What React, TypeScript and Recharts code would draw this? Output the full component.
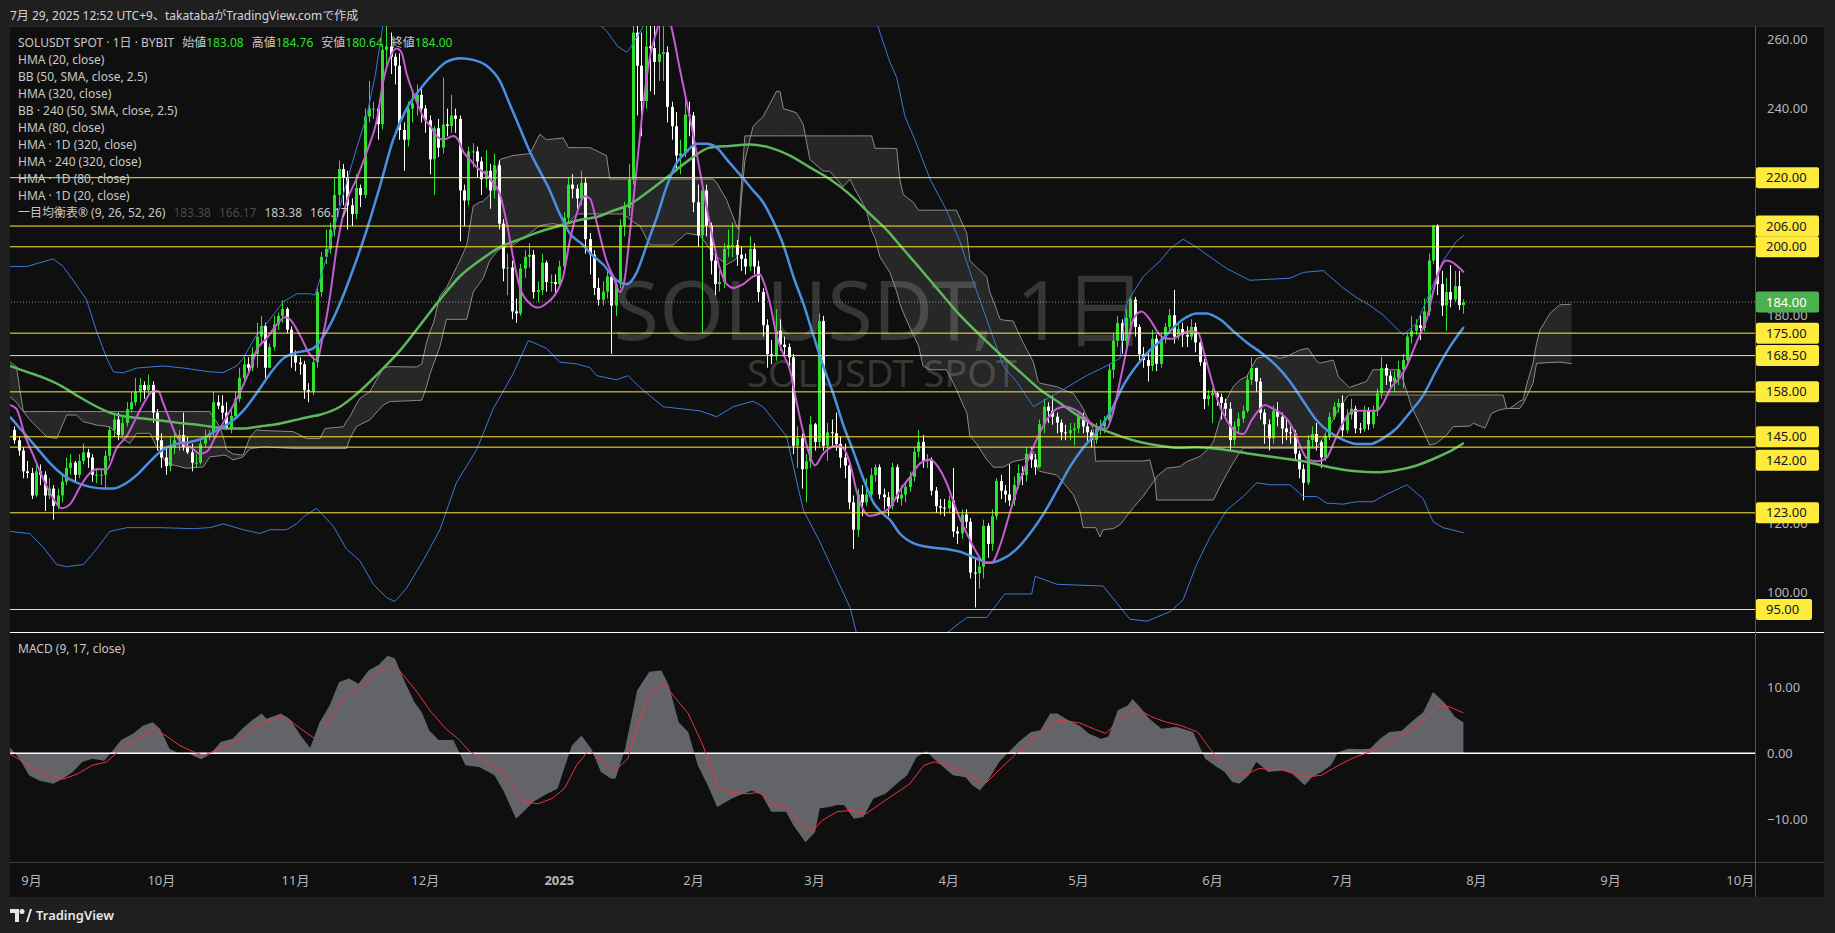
import React from "react";
import {
  ComposedChart,
  Bar,
  Line,
  Area,
  XAxis,
  YAxis,
  ReferenceLine,
} from "recharts";

const FONT = "'Noto Sans', 'Noto Sans CJK JP', sans-serif";
const UP = "#2fe02f";
const DOWN = "#ffffff";
const YELLOW = "#ffeb3b";
const BB_BLUE = "#3b78d8";
const HMA80_BLUE = "#4a90e2";
const HMA20_PINK = "#c65bd3";
const HMA320_GREEN = "#5cb85c";
const AXIS_TEXT = "#b2b5be";

// x values are days counted from 2024-09-01 (day 0)
const X_MIN = -4.99;
const X_MAX = 398.41;
const P_MIN = 88.49;
const P_MAX = 263.91;
const M_MIN = -16.39;
const M_MAX = 18.3;

const FIRST_DAY = -4;
const FIRST_OPEN = 147;

// daily closes, 2024-08-28 .. 2025-07-29
const closes = [
  144, 141, 135, 134.5, 128, 135, 134, 128, 130, 125,
  128, 132, 136, 137.5, 134, 138, 140.5, 139, 134, 134,
  134, 139.5, 147, 150, 145.5, 149, 153, 155, 158, 160,
  158.5, 160, 152, 144, 139, 136.5, 142, 144, 145.5, 142,
  140.5, 137.5, 137.5, 143, 145, 146, 155, 154, 152, 147.5,
  151, 156, 162, 166, 165, 169, 174, 177, 165, 171,
  177.5, 180, 182, 176, 168.5, 166.5, 166, 158.5, 158, 166.6,
  186.9, 197.1, 199.4, 205, 215, 222.5, 220, 212, 209.5, 217,
  215, 237.7, 240, 240, 235.5, 257, 258, 255, 252.4, 233.8,
  231, 240, 241.5, 244, 240, 236.6, 225.3, 234.3, 228.7, 235.4,
  235, 238, 237, 216.3, 213.4, 227.6, 227.6, 224.7, 219.6, 222,
  216.3, 223.6, 206.7, 193.7, 194, 181.3, 180.7, 193.7, 197.1, 197.7,
  186.9, 187.5, 195.4, 189.8, 189.8, 189.2, 194.3, 208.4, 218, 216.8,
  214, 218.5, 202.2, 197.7, 188.1, 184.7, 187, 191.4, 183, 189.2,
  206.1, 211.2, 219.6, 262, 252.4, 242.2, 258, 257.5, 253.5, 255.8,
  256.3, 240.5, 234.9, 226.4, 227, 238.3, 238, 212.9, 203.3, 216.3,
  206.1, 196, 189.2, 189.8, 199.4, 200.5, 200.5, 197.7, 196.5, 194.3,
  199.4, 194.3, 186.9, 177.3, 168.9, 168.3, 175.7, 171.7, 171, 168,
  142.4, 144.6, 135.6, 137.9, 148.6, 143.5, 178.5, 142.4, 146.3, 146,
  142.9, 139, 136.7, 126, 118.1, 128.3, 126, 128.3, 133.9, 136.2,
  128.3, 127.5, 124.9, 136.2, 127.1, 128.3, 130.5, 133.4, 140.7, 143.5,
  137.9, 138.4, 129.4, 124.9, 124.5, 124.3, 126.6, 117.6, 117, 122.5,
  120.4, 105.7, 105.5, 107.4, 119.2, 114, 122, 132.2, 129.4, 128.3,
  126.6, 131.1, 134.5, 133.9, 140.1, 138.4, 136.2, 148.6, 153.7, 152.5,
  150.8, 149.1, 146.3, 146, 146.9, 147.4, 150.8, 148, 146.3, 144.1,
  147.4, 148, 149.7, 164.4, 172.8, 177.9, 172.8, 179.5, 184.7, 176.8,
  168.9, 167.2, 165.5, 173.4, 166.1, 173.4, 176.8, 180.2, 174, 176.2,
  174.5, 174, 176.8, 172.3, 166.6, 155.9, 157, 157.6, 156.5, 154.8,
  153.1, 144.1, 148, 150.3, 152.5, 161.5, 164.9, 161, 152, 148.6,
  144.6, 152.5, 150.8, 147.4, 146.3, 146, 140.1, 135.6, 131.7, 144.1,
  145.8, 143.5, 139, 145.2, 150.8, 153.7, 154.8, 146.9, 151.4, 153.1,
  147.4, 147.2, 152.5, 148.6, 152.5, 157.6, 164.9, 162.7, 161, 162.1,
  164.4, 167.2, 174, 175.7, 177.3, 176.5, 181.3, 196, 206.1, 189.2,
  183, 186.9, 184.7, 188.6, 183.08, 184,
];

const highs = [
  148, 145, 142, 138, 136, 137, 137, 135, 133, 131,
  130, 134, 139, 140, 138, 140, 143, 141.5, 140, 136,
  135.5, 141, 148, 152, 152, 151, 155, 158, 162, 162,
  161, 163, 161, 153, 146, 142, 145, 146, 147, 152,
  145, 143, 140, 144, 147, 147, 158, 157, 157, 155,
  153, 158, 165, 168, 168, 171, 178, 180, 178, 172,
  180, 181, 184.5, 182.5, 177, 170, 168, 167, 160.5, 168,
  188, 198.5, 205, 207, 220, 225, 224, 222, 214, 221,
  218, 240, 248, 242, 241, 258.5, 264, 262, 256, 256,
  236, 242, 245, 247, 246, 241, 238, 235, 237, 249,
  240, 244, 240, 238, 218, 229, 230, 229, 226, 228,
  224, 227, 225, 208, 198, 196, 185, 195, 199, 201,
  199, 190, 198, 196, 192, 192, 196, 210, 220, 221,
  218, 222, 220, 204, 199, 191, 190, 193, 192, 190,
  208, 213, 224, 280, 275, 262, 272, 268, 264, 266,
  266, 258, 242, 239, 231, 243, 242, 239, 218, 219,
  218, 207, 198, 193, 201, 205, 207, 202, 200, 198,
  203, 201, 196, 188, 179, 173, 182, 179, 174, 172,
  169, 148, 146, 140, 151, 149, 180.7, 180, 149, 150,
  152, 145, 143, 138, 128, 130, 131, 133, 136, 137,
  137, 130, 129, 137.5, 137, 131, 132, 135, 142, 147,
  145.5, 140, 139, 130.5, 127, 127, 128, 136, 119, 124,
  124, 121.5, 110, 110, 121, 120, 124, 133, 134, 131,
  137, 133.5, 137, 136.5, 142, 142, 140, 150, 156, 155,
  157, 152, 150, 148.5, 149, 149, 152, 152, 149, 147,
  149, 150, 151, 166, 175, 180, 179, 182, 185.5, 185.5,
  177.5, 171, 170, 176, 174.5, 175, 178, 182, 187.5, 178,
  178, 177, 179, 178, 173, 167.5, 158.5, 159, 158, 157.5,
  156, 155, 149.5, 152, 154, 163, 168, 165, 162, 153,
  150, 154, 155, 152, 150, 148, 147, 141, 137, 145.5,
  148, 149, 144, 146, 152, 155, 156, 157, 153, 156,
  154, 149, 154, 153.5, 154, 159, 168.2, 166, 164, 164,
  167, 169, 175, 180, 179, 180, 185, 198, 206.3, 206.5,
  193, 191, 194.7, 193, 193, 184.76,
];

const lows = [
  143, 139.5, 133, 133, 127, 127.5, 131, 123.5, 127, 121,
  124, 126, 131, 134, 132, 133, 137, 136, 132, 131.5,
  131, 130, 138, 145, 144, 145, 148, 152, 154, 155,
  156, 157, 149, 141, 136, 134, 135, 140, 141, 141,
  140, 135, 136, 137, 142, 144, 145, 153, 150, 147,
  146, 150, 155, 160, 163.5, 164, 165, 172, 162, 165,
  170, 176, 178, 175, 165, 164, 163, 156, 155, 157,
  165, 185.5, 195, 198, 203, 212, 212, 205, 206, 208,
  211.5, 214, 236, 237, 231, 234, 252, 250, 247, 231,
  222, 229, 236, 238, 236, 233, 221, 215, 226, 227,
  232, 233, 233, 201.6, 206, 212, 223, 220, 215, 217,
  211, 214, 205, 190, 186, 179, 178, 180, 191, 194,
  185, 184, 186, 187, 187, 186, 188, 193, 207, 214,
  210, 212, 198, 192, 186, 183, 183, 185, 169, 180,
  188, 203, 209, 218, 238, 232, 240, 245, 244, 248,
  248, 236, 231, 222, 221, 226, 232, 210, 200, 175,
  203, 192, 186, 187, 188, 197, 197, 194.5, 193, 192,
  193, 192, 184, 174, 165, 166, 167, 170, 168, 165.5,
  140, 136, 130, 126, 136, 141, 142, 141, 138, 142,
  141, 136, 133, 124, 112.5, 116, 122, 125, 127, 132,
  127, 124, 122, 124, 126, 125, 126, 129, 132, 139,
  136, 136, 128, 123, 122.5, 122, 123, 116, 114, 115.5,
  118.5, 104, 95.6, 101, 104, 110, 112, 121, 127, 126,
  125, 125, 130, 131, 132, 136, 134, 136, 146, 149,
  148.5, 146, 144, 144, 144, 142.5, 146, 146, 143.5, 142,
  143, 145.5, 146, 149, 162, 171, 169, 171, 176.5, 174,
  167, 165, 161, 164, 164, 165, 172, 175, 172, 173,
  171, 171, 173, 169.5, 165.5, 153, 154, 149, 154, 150,
  151, 141, 142.5, 146, 149, 152, 160, 158, 150, 143,
  141, 143, 148, 143, 144, 143, 138, 133, 126.6, 131,
  142, 141, 136, 138, 144, 150, 152, 145, 146, 150,
  146, 146, 146.5, 147, 147.5, 151, 156, 160, 159, 158,
  160, 159, 166, 172, 174.5, 173, 175.5, 180, 195, 186,
  180, 175.7, 182.5, 184, 181.7, 180.64,
];

// [day, value]
const hma20 = [
  [-5, 154.2], [-3.5, 153.1], [-1.5, 145.2], [0.4, 139.6], [2.7, 132.8], [5, 127.1], [6.9, 124.3],
  [8.9, 125.5], [11.2, 130.5], [13.5, 134.5], [15, 135.6], [17.4, 135.6], [19.7, 141.8], [22, 145.2],
  [24.3, 150.8], [26.2, 155.3], [28.1, 158.2], [29.3, 158.2], [30.4, 154.8], [32, 149.7], [33.5, 145.2],
  [35.1, 142.9], [37, 141.8], [38.9, 140.1], [40.5, 140.7], [42.8, 145.8], [45.1, 150.8], [47.4, 155.9],
  [48.9, 159.9], [50.5, 164.5], [52, 170], [54.3, 173.4], [56.6, 177.3], [58.6, 179.6], [59.7, 179],
  [62, 174.5], [64.3, 168.9], [65.9, 167.2], [67.4, 174.5], [69, 185.8], [70.5, 199.4], [72.8, 212.9],
  [75.1, 219.6], [77.5, 227.5], [79.8, 236.6], [81.3, 247.9], [82.8, 254.6], [84.4, 257.4], [85.5, 256.3],
  [86.7, 250.1], [88.6, 243.3], [90.5, 237.7], [92.5, 234.3], [93.6, 232.1], [95.2, 231], [97.5, 232.1],
  [98.6, 231], [99.8, 227.5], [101.3, 225.3], [102.9, 223], [104.8, 221.3], [106.7, 218.5], [108.3, 215.1],
  [109.8, 207.2], [111.3, 197.1], [112.9, 188.1], [115.2, 183.6], [117.1, 182.4], [119, 183.6],
  [121.4, 186.9], [122.9, 191.4], [124.4, 201.6], [126, 209.5], [127.9, 214.6], [129.1, 214],
  [130.6, 207.2], [132.9, 196], [134.5, 191.4], [136, 186.9], [137.2, 191.4], [138.3, 203.9],
  [139.9, 223], [141.4, 241.1], [142.9, 254.6], [144.5, 262.5], [145.5, 266.5], [146.4, 268],
  [147.4, 266], [148.3, 261.4], [149.9, 251.2], [151.4, 242.2], [153, 232.1], [154.5, 221.9], [156, 211.8],
  [157.6, 201.6], [159.1, 193.7], [160.7, 189.2], [162.2, 188.1], [164.5, 189.2], [166.8, 191.4],
  [168.4, 192], [169.1, 190.3], [170.7, 183.6], [172.2, 174.5], [173.8, 168.9], [175.3, 164.4],
  [176.8, 155.3], [178.4, 146.3], [179.9, 139.6], [181.1, 136.7], [183, 140.1], [186.1, 142.4],
  [187.6, 141.8], [189.2, 137.3], [190.7, 129.4], [192.3, 123.8], [193.8, 122.1], [196.1, 122.8],
  [198.4, 124.5], [200.7, 129.4], [203.1, 133.4], [205.4, 137.3], [207.7, 138.4], [209.6, 136.2],
  [211.5, 131.7], [213.8, 123.8], [216.2, 117], [218.5, 111.4], [220.4, 108.5], [221.9, 108.5],
  [223.9, 113.6], [225.8, 121.5], [227.7, 129.4], [230, 137.3], [232.3, 144.1], [234.6, 149.7],
  [237, 153.1], [238.9, 153.7], [240.8, 153.1], [242.3, 152], [244.7, 149.1], [247, 147.4], [248.5, 147.4],
  [250, 152], [251.6, 161], [253.1, 170], [254.7, 179], [256.6, 181.3], [258.5, 179], [260.8, 174.5],
  [262.4, 173.4], [263.9, 173.4], [265.5, 174.5], [267.8, 175.6], [269.7, 175.1], [270.9, 170],
  [272.4, 163.2], [273.9, 156.5], [276.3, 149.7], [278.6, 146.3], [280.1, 145.8], [282, 149.7],
  [284, 153.1], [285.1, 154.2], [287, 153.1], [288.6, 152], [290.5, 149.7], [292, 146.3], [293.6, 141.3],
  [295.1, 138.4], [297.4, 137.9], [299.4, 139], [300.9, 142.9], [302.5, 147.4], [304, 150.8],
  [305.9, 152.5], [308.6, 152.5], [310.9, 152.5], [312.5, 154.8], [314, 158.7], [316.3, 162.1],
  [317.9, 165.5], [319.4, 170], [320.9, 174.5], [322.5, 179], [324, 186.9], [325.6, 193.7], [327.1, 196],
  [328.6, 195.4], [330.2, 193.7], [331.1, 192.6],
];

const hma80 = [
  [-5, 150.8], [-1.9, 146.3], [1.2, 141.8], [4.3, 137.3], [7.3, 133.9], [10.4, 131.7], [13.5, 130.5],
  [16.6, 130], [18.9, 130], [21.2, 131.1], [24.3, 133.9], [27.4, 137.9], [30.4, 141.3], [33.5, 142.9],
  [36.6, 143.5], [39.7, 144.6], [42.8, 146.9], [45.9, 149.1], [48.9, 152.5], [52, 157.6], [55.1, 163.2],
  [58.2, 167.7], [61.3, 169.4], [64.3, 170.2], [65.1, 170.6], [68.2, 175.6], [71.3, 183.6], [74.4, 193.7],
  [77.5, 205], [80.5, 217.4], [83.6, 231], [86.7, 240], [89.8, 245.6], [92.9, 250.1], [95.9, 253.5],
  [99, 254.6], [102.1, 254.1], [105.2, 252.4], [108.3, 247.9], [110.6, 241.1], [112.9, 234.3],
  [115.2, 227.5], [117.5, 221.9], [119.8, 216.3], [122.1, 209.5], [124.4, 203.9], [127.5, 200.5],
  [129.1, 198.2], [132.2, 194.8], [135.2, 190.3], [137.6, 189.2], [139.9, 192.6], [142.2, 200.5],
  [144.5, 208.4], [146.8, 217.4], [149.1, 224.2], [151.4, 227.5], [153.7, 229.8], [156, 229.8],
  [158.4, 228.7], [160.7, 225.3], [163.8, 220.8], [166.8, 216.3], [169.1, 212.9], [171.5, 207.2],
  [173.8, 200.5], [176.1, 191.4], [178.4, 183.6], [180.7, 174.5], [183, 165.5], [185.3, 157.6],
  [187.6, 148.6], [190, 140.7], [192.3, 132.8], [194.6, 126], [196.9, 122.6], [198.4, 121], [200.7, 117],
  [203.8, 114.2], [207.7, 113], [211.5, 112.5], [215.4, 111.4], [218.5, 109.7], [221.5, 108.5],
  [224.6, 109.7], [227.7, 112.5], [230.8, 117], [233.9, 122.6], [237, 129.4], [240, 136.2], [243.1, 141.8],
  [246.2, 146.3], [249.3, 152], [252.4, 159.9], [255.4, 165.5], [258.5, 170], [261.6, 173.4],
  [263.2, 175.6], [266.2, 179], [269.3, 180.7], [271.6, 180.7], [274.7, 179], [277.8, 175.6],
  [280.9, 172.3], [284.7, 168.9], [287.8, 165.5], [290.9, 161], [294, 155.3], [297.1, 149.7],
  [300.1, 146.3], [303.2, 144.1], [306.3, 142.9], [309.4, 142.9], [312.5, 144.6], [315.5, 147.4],
  [318.6, 152], [321.7, 157], [324.8, 164.4], [327.9, 171.1], [331.1, 176.8],
];

const hma320 = [
  [-5, 165.5], [-1.1, 163.8], [2.7, 162.1], [6.6, 159.9], [10.4, 157], [14.3, 154.2], [18.1, 152],
  [22, 150.8], [25.8, 150.3], [29.7, 149.7], [33.5, 149.1], [37.4, 148.6], [41.2, 148], [45.1, 147.4],
  [48.9, 147.4], [52.8, 148], [56.6, 148.6], [60.5, 149.7], [64.3, 150.8], [66.7, 151.4], [71.3, 153.7],
  [75.9, 158.2], [80.5, 163.8], [85.2, 170], [89.8, 177.3], [94.4, 184.7], [99, 191.4], [103.6, 196],
  [108.3, 199.9], [112.9, 202.2], [117.5, 204.4], [122.1, 206.1], [126.8, 207.8], [131.4, 208.9],
  [133.7, 210.1], [138.3, 212.3], [142.9, 216.3], [147.6, 220.8], [152.2, 225.3], [156.8, 228.7],
  [161.4, 229.2], [166.1, 229.6], [170.7, 228.7], [175.3, 226.4], [179.9, 223], [184.5, 219.6],
  [189.2, 215.1], [193.8, 209.5], [198.4, 203.9], [200.7, 200.5], [205.4, 193.7], [210, 186.9],
  [214.6, 180.2], [219.2, 174.5], [223.9, 168.9], [228.5, 163.8], [233.1, 158.7], [237.7, 154.8],
  [242.3, 150.8], [247, 147.4], [251.6, 145.2], [256.2, 143.5], [260.8, 142.4], [265.5, 141.8],
  [269.3, 142], [275.5, 141.3], [281.6, 140.1], [287.8, 139], [294, 137.9], [300.1, 136.2], [306.3, 135],
  [310.9, 134.7], [315.5, 135.3], [320.2, 136.7], [324.8, 139], [328.6, 141.3], [331.1, 143.2],
];

const bbUpper = [
  [-5, 194.3], [-1.1, 194.3], [5, 196.5], [7.3, 194.3], [9.6, 190.3], [12.7, 184.7], [15, 175.6],
  [17.4, 167.7], [18.9, 163.8], [21.2, 163.5], [24.3, 164.9], [30.4, 165.5], [35.1, 164.9], [41.2, 163.8],
  [44.3, 163.6], [47.4, 165.5], [48.9, 167.7], [52, 174.5], [55.1, 179], [58.2, 184.1], [61.3, 186.4],
  [64.3, 186.4], [65.5, 186], [68, 196], [72, 215], [75, 228], [77.5, 238], [79.5, 250], [81.3, 264.8],
  [85, 272], [90, 278], [100, 282], [110, 280], [120, 274], [128, 268], [132.9, 262.5], [135.5, 258],
  [137.6, 256.3], [138.3, 257.4], [140.6, 262], [141.8, 264.8], [146, 275], [155, 288], [170, 290],
  [185, 282], [193, 270], [195.7, 263.6], [198.4, 253.5], [200, 249], [201.9, 237.7], [204.2, 231],
  [207.7, 219.6], [211.5, 210.6], [214.6, 201.6], [217.3, 191.4], [220.8, 179], [224.6, 165.5],
  [227.7, 161], [231.6, 153.7], [234.6, 155.9], [239.3, 159.3], [243.9, 162.7], [248.5, 165.5],
  [251.6, 167.7], [253.1, 183.6], [257, 191.4], [260.8, 195.8], [263.2, 199.4], [266.2, 202.2],
  [269.3, 199.9], [272.4, 197.1], [276.3, 193.7], [281.6, 190.3], [286.3, 190.6], [290.9, 190.9],
  [294, 192.6], [298.6, 193.1], [303.2, 188.1], [306.3, 185.3], [309.4, 183], [312.5, 180.2],
  [317.1, 174.5], [320.2, 177.9], [323.3, 186.9], [326.3, 196], [329.4, 201.6], [331.1, 203.3],
];

const bbLower = [
  [-5, 117.6], [-0.4, 117], [2.7, 113], [5.8, 108], [8.1, 107.4], [12, 108], [15, 112.5], [18.1, 117.6],
  [22, 118.7], [29.7, 118.7], [37.4, 118.4], [41.2, 118.7], [44.3, 119.8], [48.9, 118.1], [52.8, 117],
  [55.1, 118.1], [58.9, 118.1], [61.3, 119.8], [63, 122], [65.9, 124.3], [69.7, 119.2], [72.8, 112.5],
  [75.9, 109.1], [79, 102.3], [82.1, 98.4], [84, 97.3], [86.7, 101.2], [90.5, 109.1], [94.4, 118.1],
  [98.2, 131.7], [102.9, 141.3], [106.7, 153.1], [111.3, 163.2], [114.8, 172.8], [116, 172.3],
  [119, 170.6], [122.1, 166.6], [126, 166.1], [129.1, 165], [130.6, 162.7], [135.2, 161.5],
  [137.9, 162.7], [140.6, 159.3], [146, 153.7], [154.5, 152.5], [158.4, 150.8], [162.2, 153.7],
  [166.8, 155.3], [169.1, 153.7], [174.5, 145.2], [178.4, 123.8], [182.2, 114.7], [189.2, 95.6],
  [190.7, 88.2], [195, 80], [200, 76], [205, 78], [211.5, 88.2], [216.2, 92.7], [220.8, 92.7], [225, 99.5],
  [231.2, 99.5], [232, 104.6], [237, 102.3], [247.7, 101.8], [253.9, 92.2], [257.8, 91.6], [263.2, 94.4],
  [266.2, 97.8], [269.3, 108], [272.4, 115.9], [276.3, 123.8], [280.1, 127.7], [283.2, 131.7],
  [286.3, 131.1], [290.9, 131.1], [294, 127.7], [297.1, 127.7], [299.4, 125.8], [303.2, 125.5],
  [306.3, 126.2], [310.1, 126.2], [313.2, 128.3], [317.9, 131.1], [321.7, 127.1], [324, 120.4],
  [326.3, 118.7], [331.1, 117.2],
];

// ichimoku cloud: [day, span 1, span 2]
const cloud = [
  [-5, 166.7, 156.6], [-3.5, 165.3, 155], [-2.7, 158.5, 153.5], [-1.9, 152.3, 152.3], [-0.4, 152.3, 149.9],
  [1.2, 152.3, 147.9], [3.5, 152.3, 145], [5.8, 152.3, 144.5], [7.3, 152.3, 148.9], [8.1, 152.3, 151.3],
  [10.4, 152.3, 151.3], [11.9, 152.3, 149.4], [15, 152.3, 148.4], [18.1, 152.3, 147.9], [20.4, 152.3, 145],
  [22.7, 152.3, 143.1], [24.3, 152.3, 146], [27.4, 152.3, 146], [28.9, 152.3, 142.1], [31.2, 152.3, 137.3],
  [35.8, 152.3, 135.9], [39.7, 152.3, 136.3], [41.2, 152.3, 139.2], [43.5, 147.9, 139.5], [44.3, 145, 139.7],
  [45.1, 141.2, 139.5], [46.6, 140, 138.3], [48.9, 139.7, 139.2], [50.5, 145, 141.6], [52, 147, 141.8],
  [53.6, 146.8, 142.1], [60.5, 146.5, 141.6], [63.6, 144.5, 141.6], [66.7, 144.5, 141.6], [67.8, 147.4, 141.6],
  [72.1, 147.9, 141.6], [72.8, 149.5, 141.6], [73.6, 150.8, 144.5], [75.1, 154.5, 147.9], [75.9, 156.1, 148.5],
  [78.2, 158.1, 149.9], [81.3, 164.9, 154.2], [82.8, 165.3, 155.2], [89, 165.2, 155.5], [90.2, 166.1, 155.6],
  [91.3, 172.3, 159.5], [92.1, 175.5, 163.2], [92.9, 177.9, 166], [94.4, 185.8, 171.1], [95.9, 188.1, 179],
  [99, 196, 179], [100.6, 200.5, 179], [102.1, 211.8, 186.9], [103.6, 212.9, 189.5], [104.4, 213.2, 190.9],
  [105.9, 215, 196], [107.5, 221.9, 198.5], [108.3, 225.3, 199.4], [111.3, 226.4, 200.5], [115.2, 227, 203.9],
  [117.5, 232.6, 206.1], [119, 231, 206.5], [120.6, 231.2, 206.7], [122.9, 231.5, 206.1], [124.1, 228.7, 207],
  [126, 228.7, 209.5], [129.1, 228.7, 209.5], [132.9, 226.4, 209.5], [133.7, 219.6, 209.5],
  [136.8, 219.6, 209.5], [139.1, 219.6, 207.2], [140.6, 219.6, 206.1], [142.9, 219.6, 200.5],
  [148.3, 219.6, 200.5], [151.4, 219.6, 203.9], [154.5, 219.6, 203.3], [157.6, 219.6, 198],
  [158.4, 218.5, 197.1], [160.7, 213.5, 194.8], [163, 206, 196.5], [163.4, 205, 202], [164.1, 218, 214],
  [164.9, 232.1, 225], [166.8, 232.1, 234.9], [169.1, 232.1, 237.7], [172.2, 232.1, 245], [173, 232.1, 245],
  [173.8, 232.1, 240], [176.8, 232.1, 238.8], [178.4, 232.1, 235.4], [179.9, 232.1, 225.3],
  [183, 232.1, 221.9], [184.5, 232.1, 221.9], [186.1, 232.1, 219.6], [187.6, 232.1, 217.4],
  [189.2, 232.1, 219.6], [190, 232.1, 217.4], [193, 232.1, 210.6], [194.2, 232.1, 204.5],
  [195, 228.5, 202.5], [196.1, 228.5, 197.1], [198.4, 228.5, 192.6], [200, 228.4, 187], [200.7, 219.6, 183.6],
  [201.5, 215.1, 181], [203.8, 212.9, 174.5], [205, 210.6, 171.5], [206.1, 210.6, 165.5], [207.7, 210.6, 164.4],
  [211.5, 210.6, 164.4], [213.8, 210.6, 158.7], [215.4, 206.1, 154], [216.2, 203.9, 152], [216.9, 196, 145.2],
  [218.5, 194, 142.9], [220.8, 191.4, 138.4], [221.5, 186.9, 137.5], [222.3, 184.5, 136.2],
  [223.9, 179, 136.2], [224.6, 178.8, 136.2], [226.9, 178.5, 137.8], [229.2, 172.3, 138.4],
  [231.6, 166.6, 140.7], [232.7, 161, 135.5], [233.1, 160.5, 135], [237, 159.5, 133.9], [239.3, 158.2, 130.5],
  [240.8, 157.6, 128.3], [242.3, 154.8, 123.8], [243.1, 153.2, 118.7], [243.5, 152, 118.7],
  [245.4, 147.4, 118.7], [246, 137.9, 118.7], [247, 138, 116], [247.7, 138, 118.1], [250, 138, 118.4],
  [251.6, 138, 119.5], [254.7, 138, 124.5], [257, 138, 127.8], [258.5, 138.3, 130.5], [259.7, 132.5, 132.5],
  [260.1, 126.7, 133.5], [262.4, 126.7, 135.9], [265.5, 126.7, 136.4], [267, 126.7, 137.8],
  [270.1, 126.7, 139.3], [272.4, 126.7, 142.1], [273.2, 126.7, 143.5], [274.7, 130.5, 149.9],
  [276.2, 134, 155.7], [277.8, 137.5, 159.5], [279.3, 140.5, 161.4], [280.1, 141.7, 162], [280.9, 141.7, 162.4],
  [283.2, 141.7, 167.7], [286.3, 141.7, 168.7], [288.6, 141.7, 167.7], [290.1, 141.7, 168.2],
  [293.2, 141.7, 170.1], [295.1, 141.7, 170.6], [297, 141.7, 167], [297.8, 143, 166.3], [300.9, 150, 167.2],
  [302.1, 153, 162.4], [304.4, 157, 159.5], [304.7, 157.1, 159.3], [308.6, 157.1, 161], [310.1, 157.1, 164.4],
  [316.3, 157.1, 164.4], [317.8, 157.1, 158.6], [319, 157.1, 153.7], [320.9, 157.1, 148.9],
  [323.2, 157.1, 142.6], [324.8, 157.1, 143.1], [327.1, 157.1, 145.5], [328.6, 157.1, 147.9],
  [332.5, 157.1, 148.1], [333.3, 157.1, 148.9], [336, 157.1, 147.5], [337.5, 157.1, 151.8],
  [339.4, 157.1, 152.8], [340.2, 157.1, 153], [341, 153.2, 153.2], [341.7, 153.2, 153.2], [344, 153.2, 155.3],
  [344.8, 154.5, 155.7], [345.6, 156.6, 160], [347.1, 160.5, 166.3], [347.9, 166.3, 172], [348.7, 166.3, 175.9],
  [351, 166.5, 180.7], [353.3, 166.6, 183.2], [356, 166.17, 183.38],
];

const macd = [
  [-5.1, 0.95], [-2.8, -0.8], [-0.6, -3.3], [1.7, -4.1], [5, -4.6], [7.3, -3.8], [9.5, -2.8], [11.7, -1.3],
  [14, -0.8], [16.8, -1.1], [18.5, 0.2], [20.7, 2], [23.5, 3], [25.8, 4.2], [28, 4.7], [29.7, 3.7], [31.9, 0.7],
  [34.2, -0.05], [36.4, -0.05], [39.2, -0.9], [41.4, -0.05], [43.7, 1.7], [46.5, 2.2], [48.7, 3.7], [51, 5],
  [53.2, 6], [54.3, 5.2], [57.7, 6], [59.9, 5], [62.2, 2.7], [64.4, 0.8], [66.6, 4.7], [68.9, 7.2],
  [71.1, 10.75], [73.4, 11.3], [75.6, 10.5], [77.9, 12.5], [80.1, 13.3], [82.3, 14.7], [84, 14.3],
  [86.3, 10.75], [88.5, 7.7], [90.2, 6.2], [91.9, 3.5], [94.1, 2], [97.5, 2], [100.3, -1.8], [103.6, -2.1],
  [107, -3.3], [109.2, -5.8], [112, -9.85], [113.7, -8.8], [116, -7.3], [118.7, -6.3], [121.6, -5.3],
  [124.9, 1.2], [127.1, 2.7], [129.4, 0.7], [131.6, -2.8], [133.9, -3.8], [135, -3.8], [137.2, 0.7],
  [140, 9.5], [142.8, 12.3], [145.6, 12.5], [147.3, 10.25], [149.6, 4.7], [151.8, 3.2], [154, -1.8],
  [156.3, -4.8], [158.5, -8.1], [161.9, -6.8], [163.8, -6.3], [166.5, -5.6], [168.8, -6.3], [171, -8.8],
  [174.4, -8.8], [176.1, -10.85], [178.9, -13.4], [181.1, -11.9], [182.2, -8.3], [184.5, -8.1], [186.2, -7.8],
  [187.8, -7.8], [190.1, -9.85], [192.3, -9.6], [194.6, -6.8], [197.4, -6.1], [199.6, -4.8], [202.4, -3.3],
  [204.6, -0.55], [206.9, 0.3], [208.6, -0.8], [210.8, -2.1], [213, -3.3], [215.9, -3.6], [217.5, -4.8],
  [219.2, -5.6], [220.9, -4.3], [223.7, -1.3], [225.9, 0.2], [228.2, 1.7], [231, 3.2], [233.2, 3.5],
  [235.5, 6], [237.1, 6], [239.4, 5.1], [242.2, 4.2], [244.4, 3], [247.2, 2.2], [248.9, 2.5], [251.1, 6.5],
  [253.4, 7.2], [254.5, 8.2], [256.2, 7], [258.4, 5.2], [261.2, 3.7], [264.6, 4], [268.5, 3.2], [271.3, -0.8],
  [274.1, -2.1], [275.8, -2.8], [277.5, -4.3], [279.2, -4.6], [281.4, -3.3], [283.1, -1.3], [285.9, -2.8],
  [289.2, -2.6], [291.5, -3.1], [294.3, -4.8], [296, -3.6], [298.2, -2.8], [300.4, -1.8], [302.1, 0.2],
  [304.4, 0.7], [307.2, 0.6], [309.4, 0.7], [311.7, 2.2], [313.9, 3.2], [316.7, 3.4], [318.9, 4.7],
  [321.7, 6.2], [324, 9.25], [326.8, 7.5], [329, 5.5], [331, 4.7],
];

const macdSignal = [
  [-5.1, -0.05], [-0.6, -1.8], [2.8, -3.1], [7.3, -3.9], [10.6, -3.1], [14, -1.8], [17.3, -1.3], [20.7, 0.7],
  [24.1, 2], [28.5, 3.7], [31.4, 2.5], [34.2, 1.2], [37.5, 0.2], [39.8, -0.3], [42.6, 0.45], [45.4, 1.2],
  [48.7, 2.5], [52.1, 4.2], [55.4, 5], [58.8, 5.5], [62.2, 3.7], [65.3, 2.3], [67.8, 4], [70, 6.2],
  [72.3, 8.5], [75.1, 9.5], [77.9, 11], [80.7, 12.3], [83.5, 13.5], [85.7, 12], [89.1, 9.25], [92.4, 6.2],
  [95.8, 3.7], [98.6, 2.2], [101.4, 0.2], [104.7, -1.1], [108.1, -2.3], [111.5, -5.3], [113.7, -7.3],
  [117.1, -7.6], [120.4, -6.8], [123.2, -5.3], [126, -1.8], [128.8, 0.45], [131.6, -1.1], [135, -2.6],
  [137.8, -0.8], [140.6, 5.2], [143.4, 9.25], [146.2, 10.5], [149, 8.2], [151.8, 6], [155.2, 1.2],
  [158.5, -4.8], [160.8, -5.8], [165.2, -6.1], [168.2, -5.9], [171.6, -7.6], [175, -8.3], [177.8, -10.6],
  [180.6, -11.7], [182.8, -10.1], [186.2, -8.8], [189.5, -8.6], [192.9, -9.1], [196.2, -7.6], [199.6, -6.1],
  [203, -4.6], [206.3, -1.8], [208.6, -1.3], [211.9, -1.8], [215.3, -2.8], [218.7, -4.1], [220.9, -4.3],
  [224.3, -2.1], [227.6, -0.05], [231, 1.7], [234.3, 3.7], [237.7, 5], [242.2, 4.6], [245.5, 3.7],
  [248.3, 3], [251.1, 4.7], [253.9, 6.2], [255.6, 6.7], [259, 5.5], [262.3, 4.7], [265.7, 4.2], [269.6, 3.2],
  [272.4, 0.7], [274.7, -1.1], [276.9, -2.6], [280.3, -3.3], [283.6, -2.3], [287, -2.4], [290.4, -2.6],
  [294.3, -3.6], [298.2, -3.3], [302.7, -1.6], [306, -0.55], [309.4, 0.2], [312.8, 1.2], [316.1, 2.5],
  [320.1, 4], [322.9, 5.7], [325.1, 7.2], [327.9, 7], [331, 6.1],
];

const levels = [220, 206, 200, 175, 168.5, 158, 145, 142, 123, 95];
const LAST_PRICE = 184;
// axis values that are not covered by the level tags
const priceTicks = [100, 120, 180, 240, 260];
const macdTicks = [-10, 0, 10];
const monthTicks: [number, string][] = [
  [0, "9月"], [30, "10月"], [61, "11月"], [91, "12月"], [122, "2025"], [153, "2月"], [181, "3月"],
  [212, "4月"], [242, "5月"], [273, "6月"], [303, "7月"], [334, "8月"], [365, "9月"], [395, "10月"],
];

const legendLines = [
  "HMA (20, close)",
  "BB (50, SMA, close, 2.5)",
  "HMA (320, close)",
  "BB · 240 (50, SMA, close, 2.5)",
  "HMA (80, close)",
  "HMA · 1D (320, close)",
  "HMA · 240 (320, close)",
  "HMA · 1D (80, close)",
  "HMA · 1D (20, close)",
];

const candles = closes.map((c, i) => ({
  d: FIRST_DAY + i,
  o: i === 0 ? FIRST_OPEN : closes[i - 1],
  c,
  h: highs[i],
  l: lows[i],
}));
const rows = (pts: number[][]) => pts.map(([d, v]) => ({ d, v }));
const cloudRows = cloud.map(([d, a, b]) => ({ d, a, b }));

function Candle(props: any) {
  const { x, y, width, height, payload } = props;
  if (!payload || x == null || y == null) return null;
  const top = Math.min(y, y + height);
  const span = Math.abs(height);
  const k = span / Math.max(payload.h - payload.l, 0.0001);
  const color = payload.c >= payload.o ? UP : DOWN;
  const bodyTop = top + (payload.h - Math.max(payload.o, payload.c)) * k;
  const bodyBottom = top + (payload.h - Math.min(payload.o, payload.c)) * k;
  const cx = Math.round(x + width / 2) + 0.5;
  return (
    <g>
      <line x1={cx} x2={cx} y1={top} y2={top + span} stroke={color} strokeWidth={1} />
      <rect x={cx - 1.5} y={bodyTop} width={3} height={Math.max(1, bodyBottom - bodyTop)} fill={color} />
    </g>
  );
}

function PriceTag({ viewBox, value, bg, fg, shift = 0 }: any) {
  if (!viewBox) return null;
  const x = viewBox.x + viewBox.width + 1;
  const cy = viewBox.y + shift;
  const text = value.toFixed(2);
  const w = text.length > 5 ? 63 : 56;
  return (
    <g>
      <rect x={x} y={cy - 10.5} width={w} height={21} rx={2} fill={bg} />
      <text x={x + 10} y={cy + 4.5} fill={fg} fontSize={13} fontFamily={FONT}>
        {text}
      </text>
    </g>
  );
}

function AxisTick({ x, y, payload, minus }: any) {
  const v = payload.value;
  const label = v < 0 && minus ? "−" + Math.abs(v).toFixed(2) : v.toFixed(2);
  return (
    <text x={x} y={y} dy={4.5} textAnchor="start" fill={AXIS_TEXT} fontSize={13} fontFamily={FONT}>
      {label}
    </text>
  );
}

function MonthTick({ x, y, payload }: any) {
  const found = monthTicks.find((m) => m[0] === payload.value);
  const label = found ? found[1] : "";
  return (
    <text
      x={x}
      y={y}
      dy={22.5}
      textAnchor="middle"
      fill={AXIS_TEXT}
      fontSize={13}
      fontWeight={label === "2025" ? 700 : 400}
      fontFamily={FONT}
    >
      {label}
    </text>
  );
}

const noMargin = { top: 0, right: 0, bottom: 0, left: 0 };

export default function App() {
  return (
    <div
      style={{
        position: "absolute",
        left: 0,
        top: 0,
        width: 1835,
        height: 933,
        background: "#1f1f1f",
        fontFamily: FONT,
        overflow: "hidden",
      }}
    >
      <div style={{ position: "absolute", left: 10, top: 6, fontSize: 12, color: "#d1d4dc" }}>
        7月 29, 2025 12:52 UTC+9、takatabaがTradingView.comで作成
      </div>

      <div
        style={{
          position: "absolute",
          left: 10,
          top: 26,
          width: 1814,
          height: 871,
          background: "#0f0f0f",
          boxSizing: "border-box",
          borderTop: "1px solid #2a2a2a",
        }}
      />

      <svg style={{ position: "absolute", left: 0, top: 0 }} width={1835} height={933}>
        <text x={880} y={340} textAnchor="middle" fontSize={83} fill="#363636" fontFamily={FONT}>
          SOLUSDT, 1日
        </text>
        <text x={882} y={387} textAnchor="middle" fontSize={38} fill="#363636" fontFamily={FONT}>
          SOLUSDT SPOT
        </text>
      </svg>

      {/* price pane: series */}
      <div style={{ position: "absolute", left: 10, top: 26 }}>
        <ComposedChart width={1814} height={606} data={candles} margin={noMargin}>
          <XAxis dataKey="d" type="number" domain={[X_MIN, X_MAX]} allowDataOverflow hide />
          <YAxis
            orientation="right"
            width={69}
            domain={[P_MIN, P_MAX]}
            allowDataOverflow
            ticks={priceTicks}
            interval={0}
            tickLine={false}
            axisLine={false}
            tickSize={0}
            tickMargin={12}
            tick={<AxisTick />}
          />
          <Area
            data={cloudRows}
            dataKey={(r: any) => [r.a, r.b]}
            type="linear"
            stroke="#8a8a8a"
            strokeWidth={1}
            fill="#ffffff"
            fillOpacity={0.1}
            dot={false}
            activeDot={false}
            isAnimationActive={false}
          />
          <Bar
            dataKey={(r: any) => [r.l, r.h]}
            barSize={3}
            shape={(p: any) => <Candle {...p} />}
            isAnimationActive={false}
          />
          <Line data={rows(bbUpper)} dataKey="v" type="linear" stroke={BB_BLUE} strokeWidth={1} dot={false} activeDot={false} isAnimationActive={false} />
          <Line data={rows(bbLower)} dataKey="v" type="linear" stroke={BB_BLUE} strokeWidth={1} dot={false} activeDot={false} isAnimationActive={false} />
          <Line data={rows(hma320)} dataKey="v" type="monotone" stroke={HMA320_GREEN} strokeWidth={2.5} dot={false} activeDot={false} isAnimationActive={false} />
          <Line data={rows(hma80)} dataKey="v" type="monotone" stroke={HMA80_BLUE} strokeWidth={2.5} dot={false} activeDot={false} isAnimationActive={false} />
          <Line data={rows(hma20)} dataKey="v" type="monotone" stroke={HMA20_PINK} strokeWidth={2} dot={false} activeDot={false} isAnimationActive={false} />
        </ComposedChart>
      </div>

      {/* price pane: drawn levels and their tags, on top of axis text */}
      <div style={{ position: "absolute", left: 10, top: 26 }}>
        <ComposedChart width={1814} height={606} data={candles} margin={noMargin}>
          <XAxis dataKey="d" type="number" domain={[X_MIN, X_MAX]} allowDataOverflow hide />
          <YAxis
            orientation="right"
            width={69}
            domain={[P_MIN, P_MAX]}
            allowDataOverflow
            tick={false}
            tickLine={false}
            axisLine={false}
          />
          {levels.map((v) => (
            <ReferenceLine
              key={v}
              y={v}
              stroke={YELLOW}
              strokeWidth={1}
              label={(p: any) => (
                <PriceTag viewBox={p.viewBox} value={v} bg={YELLOW} fg="#131722" shift={v === 142 ? 13 : 0} />
              )}
            />
          ))}
          <ReferenceLine
            y={LAST_PRICE}
            stroke="#9a9a9a"
            strokeDasharray="1 2"
            label={(p: any) => <PriceTag viewBox={p.viewBox} value={LAST_PRICE} bg="#4caf50" fg="#ffffff" />}
          />
        </ComposedChart>
      </div>

      <div style={{ position: "absolute", left: 10, top: 632 }}>
        <ComposedChart width={1814} height={265} data={rows(macd)} margin={noMargin}>
          <XAxis
            dataKey="d"
            type="number"
            domain={[X_MIN, X_MAX]}
            allowDataOverflow
            ticks={monthTicks.map((m) => m[0])}
            interval={0}
            height={35}
            tickLine={false}
            axisLine={false}
            tickSize={0}
            tickMargin={0}
            tick={<MonthTick />}
          />
          <YAxis
            orientation="right"
            width={69}
            domain={[M_MIN, M_MAX]}
            allowDataOverflow
            ticks={macdTicks}
            interval={0}
            tickLine={false}
            axisLine={false}
            tickSize={0}
            tickMargin={12}
            tick={<AxisTick minus />}
          />
          <Area
            dataKey="v"
            baseValue={0}
            type="linear"
            stroke="none"
            fill="#63646a"
            fillOpacity={1}
            dot={false}
            activeDot={false}
            isAnimationActive={false}
          />
          <ReferenceLine y={0} stroke="#ffffff" strokeWidth={1.5} />
          <Line data={rows(macdSignal)} dataKey="v" type="linear" stroke="#ef3340" strokeWidth={1} dot={false} activeDot={false} isAnimationActive={false} />
        </ComposedChart>
      </div>

      <div style={{ position: "absolute", left: 10, top: 632, width: 1814, height: 1, background: "#ffffff" }} />
      <div style={{ position: "absolute", left: 10, top: 862, width: 1814, height: 1, background: "#3c3c3c" }} />
      <div style={{ position: "absolute", left: 1755, top: 26, width: 1, height: 871, background: "#555555" }} />

      <div
        style={{
          position: "absolute",
          left: 18,
          top: 34,
          fontSize: 12,
          lineHeight: "17px",
          color: "#c8c8c8",
          whiteSpace: "nowrap",
        }}
      >
        <div>
          SOLUSDT SPOT · 1日 · BYBIT
          <span style={{ marginLeft: 8 }}>始値</span>
          <span style={{ color: UP }}>183.08</span>
          <span style={{ marginLeft: 8 }}>高値</span>
          <span style={{ color: UP }}>184.76</span>
          <span style={{ marginLeft: 8 }}>安値</span>
          <span style={{ color: UP }}>180.64</span>
          <span style={{ marginLeft: 8 }}>終値</span>
          <span style={{ color: UP }}>184.00</span>
        </div>
        {legendLines.map((t) => (
          <div key={t}>{t}</div>
        ))}
        <div>
          一目均衡表® (9, 26, 52, 26)
          <span style={{ marginLeft: 8, color: "#4a4a4a" }}>183.38</span>
          <span style={{ marginLeft: 8, color: "#4a4a4a" }}>166.17</span>
          <span style={{ marginLeft: 8 }}>183.38</span>
          <span style={{ marginLeft: 8 }}>166.17</span>
        </div>
      </div>

      <div style={{ position: "absolute", left: 18, top: 640, fontSize: 12, lineHeight: "17px", color: "#c8c8c8" }}>
        MACD (9, 17, close)
      </div>

      <div style={{ position: "absolute", left: 10, top: 906, display: "flex", alignItems: "center", gap: 4 }}>
        <svg width={22} height={13}>
          <path d="M0 0h9v13h-4v-9h-5z" fill="#e6e6e6" />
          <circle cx={12} cy={2.5} r={2.5} fill="#e6e6e6" />
          <path d="M16 13l4-13h2l-4 13z" fill="#e6e6e6" />
        </svg>
        <span style={{ fontSize: 13, color: "#e6e6e6", fontWeight: 600 }}>TradingView</span>
      </div>
    </div>
  );
}
